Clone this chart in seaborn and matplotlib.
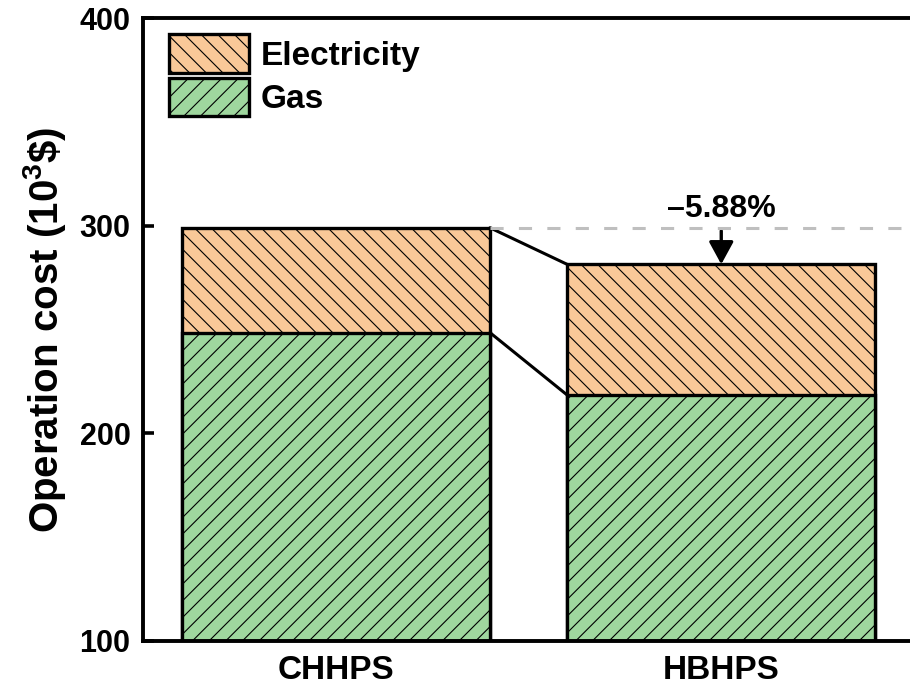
import matplotlib
matplotlib.use('Agg')
import matplotlib.pyplot as plt
import seaborn as sns
import pandas as pd

# data (10^3 $)
systems = ['CHHPS', 'HBHPS']
gas = [248.5, 218.5]
electricity = [50.5, 62.9]
change_label = '–5.88%'
yticks = [100, 200, 300, 400]

orange = '#F9C898'
green = '#9FD79E'

sns.set_style('ticks')
plt.rcParams['font.family'] = ['Liberation Sans', 'DejaVu Sans']
plt.rcParams['font.weight'] = 'bold'
plt.rcParams['mathtext.fontset'] = 'custom'
plt.rcParams['mathtext.bf'] = 'Liberation Sans:bold'
plt.rcParams['mathtext.rm'] = 'Liberation Sans:bold'
plt.rcParams['hatch.linewidth'] = 0.8
plt.rcParams['hatch.color'] = 'black'
for k in ['text.color', 'axes.labelcolor', 'xtick.color', 'ytick.color', 'axes.edgecolor']:
    plt.rcParams[k] = 'black'

df = pd.DataFrame({'system': systems, 'gas': gas, 'electricity': electricity})
df['total'] = df['gas'] + df['electricity']

fig = plt.figure(figsize=(9.1, 6.87), dpi=100)
ax = fig.add_axes([143 / 910, 1 - 641 / 687, (914 - 143) / 910, (641 - 18) / 687])

bw = 0.8
# electricity stacked on gas: draw total first, gas on top
sns.barplot(data=df, x='system', y='total', color=orange, saturation=1, width=bw,
            edgecolor='black', linewidth=2.4, hatch='\\\\', errorbar=None,
            label='Electricity', ax=ax)
sns.barplot(data=df, x='system', y='gas', color=green, saturation=1, width=bw,
            edgecolor='black', linewidth=2.4, hatch='//', errorbar=None,
            label='Gas', ax=ax)

tot = df['total'].tolist()

# connector lines between bars
ax.plot([bw / 2, 1 - bw / 2], [tot[0], tot[1]], color='black', lw=2.2, zorder=3)
ax.plot([bw / 2, 1 - bw / 2], [gas[0], gas[1]], color='black', lw=2.2, zorder=3)

# reference line at CHHPS total
ax.plot([bw / 2, 1.5], [tot[0], tot[0]], color='#BFBFBF', lw=2.2,
        dashes=(4.3, 5.0), zorder=4)

# arrow and change label
ax.annotate('', xy=(1, tot[1]), xytext=(1, tot[0] - 1.5),
            arrowprops=dict(arrowstyle='-|>,head_width=0.3,head_length=0.55',
                            lw=2.4, color='black', shrinkA=0, shrinkB=0,
                            mutation_scale=25))
ax.text(1, tot[0] + 9, change_label, ha='center', va='center', fontsize=23,
        fontweight='bold')

ax.set_xlim(-0.5, 1.5)
ax.set_ylim(100, 400)
ax.set_yticks(yticks)
ax.set_xlabel('')
ax.set_ylabel(r'Operation cost (10$^{\mathbf{3}}$\$)', fontsize=29,
              fontweight='bold', labelpad=8)

ax.tick_params(axis='y', direction='in', length=8, width=2.6, labelsize=22, pad=9)
ax.tick_params(axis='x', length=0, labelsize=24, pad=10)

for s in ax.spines.values():
    s.set_linewidth(2.8)

ax.legend(loc='upper left', bbox_to_anchor=(0.034, 0.974), frameon=False,
          fontsize=24, handlelength=2.4, handleheight=1.4, handletextpad=0.35,
          labelspacing=0.15, borderpad=0, borderaxespad=0)

fig.savefig('out.png', dpi=100)
